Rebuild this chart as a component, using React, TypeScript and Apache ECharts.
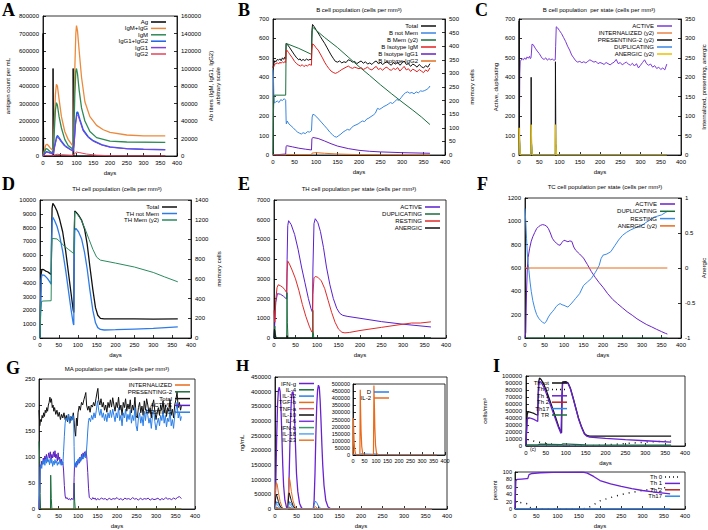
import React, { useEffect, useRef } from "react";
import * as echarts from "echarts";

type P = [number, number][];

// ---------- Panel A ----------
const aAg: P = [[0,0],[0.3,700000],[1,350000],[2,60000],[3,0],[29.5,0],[30,500000],[31,150000],[32,0],[89.5,0],[90,500000],[91,150000],[92,0],[365,0]];
const aIgMIgG: P = [[0,0],[4,6000],[8,12500],[12,13500],[16,12000],[22,9000],[29,6500],[31,8000],[34,40000],[37,70000],[40,82000],[43,80000],[48,65000],[55,45000],[65,28000],[75,19000],[85,13500],[90,11500],[92,30000],[95,100000],[98,140000],[100,149000],[103,143000],[108,120000],[115,90000],[125,62000],[140,45000],[160,35000],[180,30000],[200,27000],[250,24000],[300,23000],[365,23000]];
const aIgM: P = [[0,0],[5,5000],[9,8500],[13,8000],[20,5500],[29,3500],[31,5000],[34,30000],[37,52000],[40,61000],[43,58000],[48,45000],[55,32000],[65,19000],[75,12000],[85,9000],[90,8000],[92,25000],[95,70000],[98,97000],[100,100000],[103,94000],[108,75000],[115,55000],[125,40000],[140,28000],[160,21000],[200,17000],[250,16000],[365,15500]];
const aIgG12: P = [[0,0],[6,3000],[10,5000],[15,4500],[22,3500],[29,2500],[31,3000],[35,12000],[40,21000],[43,23500],[48,21000],[55,17000],[65,12000],[80,8000],[90,6000],[93,15000],[97,38000],[101,50000],[104,50000],[110,42000],[120,30000],[135,22000],[150,17500],[175,13000],[200,10500],[250,8500],[300,7700],[365,7200]];
const aIgG1: P = [[0,0],[6,2600],[10,4400],[15,4000],[22,3100],[29,2200],[31,2600],[35,10500],[40,19000],[43,21500],[48,19500],[55,15500],[65,11000],[80,7400],[90,5500],[93,13500],[97,35000],[101,46500],[104,47000],[110,40000],[120,28500],[135,21000],[150,16800],[175,12500],[200,10000],[250,8200],[300,7500],[365,7000]];
const aIgG2: P = [[0,0],[10,400],[30,300],[35,1200],[42,2000],[55,1500],[90,800],[95,3000],[100,4500],[110,3800],[130,2200],[160,1000],[200,300],[250,0],[365,0]];
const aNames = ["Ag", "IgM+IgG", "IgM", "IgG1+IgG2", "IgG1", "IgG2"];
const aColors = ["#000000", "#ec8a3c", "#2e8a55", "#1f5fe6", "#8040e0", "#e8405a"];

// ---------- Panel B ----------
const bTotal: P = [[0,450],[2,470],[4,485],[7,480],[10,492],[13,488],[16,495],[19,485],[22,500],[25,492],[28,505],[29.5,495],[30.5,575],[33,570],[38,555],[44,535],[50,515],[55,500],[60,490],[63,495],[66,485],[70,492],[74,486],[78,494],[82,488],[86,492],[89.5,490],[90.5,640],[92,672],[96,660],[100,645],[105,628],[110,610],[115,592],[120,575],[125,555],[130,535],[135,515],[140,498],[145,482],[150,478],[155,484],[160,474],[165,480],[170,476],[175,490],[180,486],[185,478],[190,482],[195,470],[200,478],[205,484],[210,472],[215,480],[220,468],[225,474],[230,466],[235,478],[240,484],[245,470],[250,476],[255,466],[260,474],[265,480],[270,470],[275,462],[280,476],[285,468],[290,478],[295,462],[300,472],[305,484],[310,466],[315,470],[320,456],[325,468],[330,462],[335,452],[340,466],[345,455],[350,448],[355,460],[360,452],[365,470]];
const bNotMem: P = [[0,440],[1,400],[2,300],[3,268],[6,272],[10,278],[14,270],[18,285],[22,280],[26,290],[29.5,282],[30.5,180],[31,160],[33,175],[37,160],[42,150],[47,140],[52,128],[57,118],[62,112],[66,108],[70,115],[75,110],[80,120],[85,118],[89.5,125],[91,195],[93,210],[97,205],[102,195],[108,180],[114,165],[120,150],[126,135],[132,118],[138,105],[143,95],[148,92],[153,100],[158,108],[163,118],[168,125],[173,132],[178,128],[183,142],[188,150],[193,155],[198,160],[203,168],[208,175],[213,172],[218,185],[223,190],[228,198],[233,205],[238,215],[243,240],[248,235],[253,242],[258,250],[263,255],[268,262],[273,270],[278,265],[283,275],[288,285],[293,282],[298,295],[303,310],[308,320],[313,325],[318,318],[323,322],[328,315],[333,325],[338,320],[343,330],[348,328],[353,332],[358,338],[362,345],[365,355]];
const bMem: P = [[0,0],[1,150],[2,215],[3,220],[29.5,220],[30.5,405],[31,410],[60,392],[89.5,370],[90.5,430],[92,470],[120,432],[150,395],[175,360],[200,325],[225,292],[250,258],[275,226],[300,195],[325,165],[345,140],[365,112]];
const bIgM: P = [[0,450],[2,455],[4,468],[7,470],[10,475],[13,468],[16,478],[19,472],[22,480],[25,474],[28,482],[29.5,476],[30.5,530],[32,540],[36,528],[40,515],[45,500],[50,482],[55,470],[60,462],[64,458],[68,465],[72,455],[76,462],[80,458],[84,466],[89.5,462],[90.5,540],[92,572],[96,565],[100,552],[105,540],[110,520],[115,500],[120,478],[125,460],[130,445],[135,432],[140,425],[145,420],[150,425],[155,432],[160,440],[165,446],[170,452],[175,458],[180,450],[185,446],[190,452],[195,448],[200,444],[205,450],[210,440],[215,446],[220,452],[225,442],[230,438],[235,448],[240,456],[245,440],[250,446],[255,436],[260,448],[265,452],[270,440],[275,436],[280,446],[285,440],[290,450],[295,432],[300,444],[305,456],[310,438],[315,444],[320,430],[325,442],[330,436],[335,428],[340,440],[345,432],[350,424],[355,438],[360,430],[365,448]];
const bIgG1: P = [[0,0],[29.5,5],[30.5,45],[32,48],[45,42],[60,35],[75,30],[89.5,26],[90.5,85],[93,90],[105,85],[120,72],[135,58],[150,46],[175,33],[200,24],[225,19],[250,16],[300,12],[365,9]];
const bIgG2: P = [[0,0],[29.5,0],[31,3],[60,2],[89.5,2],[91,10],[100,12],[120,9],[150,5],[200,2],[250,1],[365,0]];
const bNames = ["Total", "B not Mem", "B Mem (y2)", "B Isotype IgM", "B Isotype IgG1", "B Isotype IgG2"];
const bColors = ["#111111", "#3a86e0", "#1a6e3c", "#e02020", "#6a1fc0", "#e07020"];

// ---------- Panel C ----------
const cActive: P = [[0,0],[1,150],[2,420],[3,480],[5,488],[8,495],[11,490],[14,500],[17,492],[20,505],[23,498],[26,508],[28,496],[29.5,500],[30.5,520],[32,570],[35,568],[40,550],[45,535],[50,522],[55,505],[58,496],[62,492],[66,500],[70,488],[74,496],[78,490],[82,494],[86,488],[89.5,490],[90.5,560],[92,660],[95,655],[100,640],[105,625],[110,605],[115,585],[120,560],[125,540],[130,515],[135,500],[140,485],[145,478],[150,482],[155,475],[160,480],[165,474],[170,482],[175,490],[180,484],[185,478],[190,482],[195,470],[200,476],[205,472],[210,466],[215,476],[220,470],[225,464],[230,472],[235,478],[240,492],[245,470],[250,476],[255,464],[260,472],[265,478],[270,468],[275,462],[280,472],[285,458],[290,470],[295,448],[300,462],[305,476],[310,490],[315,470],[320,462],[325,468],[330,452],[335,460],[340,445],[345,452],[350,440],[355,448],[360,438],[365,468]];
const cInternalized: P = [[0,0],[0.5,50],[1.5,10],[3,0],[29.5,0],[30.3,8],[32,0],[89.5,0],[90.3,8],[92,0],[365,0]];
const cPresenting: P = [[0,0],[0.3,345],[1.5,40],[3,0],[29.5,0],[30,200],[31,30],[32.5,0],[89.5,0],[90,240],[91,30],[92.5,0],[365,0]];
const cDuplicating: P = [[0,0],[1,100],[2.5,20],[4,0],[29.5,0],[31,60],[33,0],[89.5,0],[91,40],[93,0],[365,0]];
const cAnergic: P = [[0,0],[0.5,70],[2,30],[3.5,0],[29.5,0],[30.3,78],[31.5,25],[33,0],[89.5,0],[90.3,78],[91.5,25],[93,0],[365,0]];
const cNames = ["ACTIVE", "INTERNALIZED (y2)", "PRESENTING-2 (y2)", "DUPLICATING", "ANERGIC (y2)"];
const cColors = ["#7a3ad6", "#e8844a", "#111111", "#3a86e0", "#e8c000"];

// ---------- Panel D ----------
const dTotal: P = [[0,0],[1,2000],[3,4600],[5,4980],[10,4950],[15,4850],[20,4800],[25,4700],[29.5,4600],[30.5,7000],[32,9400],[34,9750],[38,9600],[45,9200],[52,8600],[60,7700],[68,6300],[75,4800],[82,3300],[88,2000],[89.5,1850],[90.5,6500],[92,9200],[96,9100],[102,8900],[110,8550],[118,7900],[125,6800],[132,5200],[140,3500],[147,2200],[153,1650],[160,1420],[170,1380],[200,1380],[250,1390],[300,1370],[365,1390]];
const dNotMem: P = [[0,0],[1,1500],[3,4200],[5,4580],[10,4560],[15,4450],[20,4300],[25,4100],[29.5,3900],[30.5,6500],[32,8400],[34,8750],[38,8550],[45,8100],[52,7400],[60,6300],[68,4900],[75,3500],[82,2100],[88,1050],[89.5,950],[90.5,5500],[92,7800],[95,7950],[102,7700],[110,7200],[118,6200],[125,5000],[132,3500],[140,2000],[147,1100],[153,750],[160,620],[170,580],[200,600],[250,650],[300,700],[365,800]];
const dMem: P = [[0,0],[2,250],[4,370],[8,375],[29.5,378],[30.5,800],[32,1010],[45,1005],[55,970],[65,930],[75,900],[85,870],[89.5,855],[90.5,1100],[92,1280],[100,1250],[110,1190],[120,1100],[130,1000],[140,900],[150,820],[160,790],[200,760],[250,720],[300,665],[330,620],[365,570]];
const dNames = ["Total", "TH not Mem", "TH Mem (y2)"];
const dColors = ["#111111", "#2f7be6", "#2a8a5e"];

// ---------- Panel E ----------
const eActive: P = [[0,0],[2,800],[4,1800],[8,2250],[15,2220],[22,2120],[28,2000],[29.5,1980],[30.5,4000],[32,5700],[34,5950],[40,5750],[48,5250],[56,4500],[64,3600],[72,2800],[80,2000],[86,1500],[89.5,1300],[90.5,3500],[93,5800],[96,6050],[102,5850],[108,5400],[115,4600],[122,3600],[130,2700],[138,2000],[146,1500],[153,1250],[160,1150],[170,1100],[200,1000],[250,830],[300,700],[365,560]];
const eDuplicating: P = [[0,0],[1,400],[2,600],[3,250],[5,0],[29.5,0],[30.3,2300],[31,800],[32.5,0],[89.5,0],[90.3,1400],[91,400],[92.5,0],[365,0]];
const eResting: P = [[0,1400],[1,900],[2,800],[4,1900],[7,2550],[10,2700],[15,2650],[20,2580],[25,2450],[29.5,2300],[30.5,3300],[32,3900],[36,3750],[42,3450],[50,3000],[58,2400],[66,1700],[74,1100],[82,600],[88,300],[89.5,280],[90.5,2200],[93,3050],[96,3120],[102,3080],[110,2900],[118,2500],[126,1900],[134,1300],[142,800],[150,450],[158,290],[165,260],[175,280],[200,380],[250,540],[300,700],[320,760],[340,760],[365,820]];
const eAnergic: P = [[0,0],[1,450],[2,350],[3,100],[5,0],[29.5,0],[30.5,120],[32,0],[365,0]];
const eNames = ["ACTIVE", "DUPLICATING", "RESTING", "ANERGIC"];
const eColors = ["#5a1fd0", "#1a6e3c", "#e02a2a", "#111111"];

// ---------- Panel F ----------
const fActive: P = [[0,0],[2,50],[4,400],[6,600],[8,690],[12,770],[16,830],[20,868],[25,905],[30,938],[35,955],[40,966],[45,972],[50,968],[55,960],[60,938],[65,900],[70,855],[75,830],[80,815],[85,800],[90,795],[95,820],[100,838],[105,832],[110,825],[115,832],[120,828],[125,780],[130,752],[140,720],[150,685],[160,630],[170,570],[180,520],[190,475],[200,435],[212,380],[225,330],[237,295],[250,258],[262,225],[275,195],[287,165],[300,138],[312,115],[325,95],[337,75],[350,55],[360,40],[365,34]];
const fDuplicating: P = [[0,0],[365,0]];
const fResting: P = [[0,1110],[2,1000],[4,850],[6,720],[8,640],[10,580],[13,480],[16,400],[20,320],[25,250],[30,200],[35,170],[40,150],[45,135],[50,125],[55,145],[60,180],[65,205],[70,225],[75,245],[80,270],[85,285],[90,295],[95,285],[100,280],[105,272],[110,265],[115,282],[120,300],[125,320],[130,340],[140,380],[150,450],[160,480],[170,510],[180,560],[190,620],[195,680],[200,710],[210,720],[220,740],[230,790],[240,840],[250,880],[260,905],[270,925],[280,940],[290,955],[300,965],[310,990],[320,1010],[330,1035],[340,1045],[350,1055],[360,1075],[365,1086]];
const fAnergic: P = [[0,0],[365,0]];
const fNames = ["ACTIVE", "DUPLICATING", "RESTING", "ANERGIC (y2)"];
const fColors = ["#6a22c8", "#1a6e3c", "#3a8ae6", "#e86a1a"];

// ---------- Panel G ----------
const gInternalized: P = [[0,0],[0.5,15],[2,5],[4,0],[365,0]];
const gPresenting: P = [[0,130],[1,130],[2,90],[3,30],[4,0],[29.5,0],[30,65],[31.5,20],[33,0],[89.5,0],[90,50],[91.5,15],[93,0],[365,0]];
const gTotal: P = [[0,190],[2,160],[4,172],[6,168],[8,180],[10,175],[12,185],[14,178],[16,190],[18,185],[20,195],[22,188],[24,200],[26,205],[28,215],[30,205],[32,212],[34,195],[36,200],[38,188],[40,195],[43,182],[46,190],[49,178],[52,186],[55,172],[58,182],[61,175],[64,185],[67,172],[70,180],[73,168],[76,182],[79,165],[82,178],[85,172],[88,185],[90,170],[92,150],[94,140],[96,175],[98,160],[100,185],[103,198],[106,190],[109,205],[112,200],[115,210],[118,218],[120,224],[122,200],[125,190],[128,198],[131,186],[134,200],[137,196],[140,205],[143,198],[146,212],[149,225],[151,232],[153,210],[156,200],[159,212],[162,196],[165,205],[168,190],[171,200],[174,186],[177,205],[180,195],[183,210],[186,196],[189,214],[192,200],[195,188],[198,205],[201,195],[204,215],[207,190],[210,200],[213,180],[216,205],[219,195],[222,212],[225,188],[228,202],[231,192],[234,210],[237,185],[240,200],[243,190],[246,215],[249,180],[252,175],[255,195],[258,205],[261,185],[264,198],[267,180],[270,208],[273,190],[276,212],[279,200],[282,185],[285,195],[288,175],[291,200],[294,210],[297,188],[300,172],[303,185],[306,195],[309,180],[312,200],[315,190],[318,208],[321,185],[324,200],[327,178],[330,195],[333,188],[336,210],[339,180],[342,192],[345,175],[348,200],[351,210],[354,225],[357,195],[360,205],[363,190],[365,198]];
const gActive: P = [[0,0],[2,40],[3,85],[5,80],[7,92],[9,86],[11,98],[13,90],[15,102],[17,95],[19,105],[21,92],[23,100],[25,108],[27,98],[29,110],[31,95],[33,105],[35,98],[37,110],[39,100],[41,112],[43,98],[45,105],[47,92],[49,108],[51,95],[53,100],[55,88],[57,96],[59,85],[61,90],[63,75],[65,45],[67,25],[69,20],[72,22],[75,18],[78,20],[81,17],[84,21],[87,18],[89,20],[90,60],[91,82],[93,88],[95,80],[97,92],[99,85],[101,95],[103,88],[105,100],[107,92],[109,105],[111,96],[113,108],[115,100],[117,110],[119,102],[121,112],[123,95],[125,70],[127,40],[129,22],[132,20],[135,18],[138,22],[141,19],[144,21],[147,17],[150,20],[155,18],[160,21],[165,19],[170,20],[175,17],[180,21],[185,18],[190,20],[195,19],[200,22],[205,18],[210,20],[215,17],[220,21],[225,19],[230,20],[235,18],[240,22],[245,19],[250,20],[255,17],[260,21],[265,18],[270,20],[275,19],[280,21],[285,17],[290,20],[295,18],[300,19],[305,21],[310,17],[315,20],[320,18],[325,22],[330,19],[335,20],[340,18],[345,21],[350,19],[355,22],[360,24],[365,20]];
const gResting: P = [[0,0],[2,50],[3,80],[5,85],[7,78],[9,92],[11,86],[13,95],[15,84],[17,96],[19,88],[21,100],[23,90],[25,95],[27,85],[29,98],[31,88],[33,95],[35,82],[37,92],[39,85],[41,95],[43,88],[45,92],[47,84],[49,90],[51,86],[53,95],[55,88],[57,84],[59,92],[61,85],[63,110],[65,140],[67,165],[69,175],[72,170],[75,182],[78,165],[81,178],[84,170],[87,180],[89,172],[90,120],[91,80],[93,85],[95,90],[97,82],[99,95],[101,88],[103,98],[105,90],[107,100],[109,94],[111,105],[113,96],[115,100],[117,108],[119,98],[121,105],[123,125],[125,150],[127,170],[129,175],[132,168],[135,180],[138,172],[141,185],[144,175],[147,190],[150,208],[153,190],[156,180],[159,192],[162,176],[165,185],[168,170],[171,182],[174,168],[177,185],[180,175],[183,190],[186,176],[189,192],[192,180],[195,168],[198,185],[201,175],[204,195],[207,170],[210,180],[213,160],[216,185],[219,175],[222,192],[225,168],[228,182],[231,172],[234,190],[237,165],[240,180],[243,170],[246,195],[249,160],[252,150],[255,175],[258,185],[261,165],[264,178],[267,160],[270,188],[273,170],[276,192],[279,180],[282,165],[285,175],[288,155],[291,180],[294,190],[297,168],[300,152],[303,165],[306,175],[309,160],[312,180],[315,170],[318,188],[321,165],[324,180],[327,158],[330,175],[333,168],[336,190],[339,160],[342,172],[345,155],[348,180],[351,190],[354,205],[357,175],[360,185],[363,170],[365,178]];
const gNames = ["INTERNALIZED", "PRESENTING-2", "Total", "ACTIVE", "RESTING"];
const gColors = ["#e86a1a", "#1a6e3c", "#111111", "#5a1fc0", "#2a7ee6"];

// ---------- Panel H ----------
const hIFNg: P = [[0,0],[2,100000],[4,250000],[6,360000],[8,405000],[10,415000],[12,400000],[14,340000],[16,250000],[18,150000],[20,80000],[23,30000],[27,5000],[30,0],[32,60000],[34,180000],[36,300000],[38,370000],[40,398000],[42,400000],[44,370000],[46,290000],[48,200000],[50,120000],[53,60000],[57,20000],[62,3000],[68,0],[89,0],[91,30000],[93,120000],[95,250000],[97,350000],[99,405000],[101,422000],[103,415000],[105,370000],[107,300000],[109,220000],[111,150000],[114,80000],[118,30000],[123,8000],[130,0],[365,0]];
const hIL4: P = [[0,0],[3,5000],[10,2000],[20,0],[30,0],[33,5000],[45,0],[365,0]];
const hIL12: P = [[0,0],[2,15000],[4,25000],[7,20000],[11,10000],[15,3000],[20,0],[30,0],[32,15000],[34,25000],[37,20000],[41,10000],[45,3000],[50,0],[89,0],[91,15000],[94,27000],[97,22000],[101,10000],[106,2000],[112,0],[365,0]];
const hTGFb: P = [[0,0],[1,60000],[3,90000],[5,85000],[8,55000],[12,25000],[16,8000],[20,0],[30,0],[31,50000],[33,107000],[35,95000],[38,60000],[42,28000],[46,10000],[50,0],[89,0],[91,5000],[94,8000],[98,3000],[102,0],[365,0]];
const hTNFa: P = [[0,0],[2,8000],[6,3000],[12,0],[30,0],[32,8000],[38,2000],[45,0],[365,0]];
const hIL10: P = [[0,0],[1,30000],[3,50000],[5,42000],[8,25000],[12,10000],[16,2000],[20,0],[30,0],[31,30000],[33,55000],[35,45000],[38,28000],[42,12000],[46,3000],[50,0],[365,0]];
const hIL6: P = [[0,0],[365,0]];
const hIFNb: P = [[0,0],[365,0]];
const hIL18: P = [[0,0],[3,20000],[8,8000],[15,0],[30,0],[33,20000],[40,5000],[48,0],[365,0]];
const hIL23: P = [[0,0],[365,0]];
const hNames = ["IFN-g", "IL-4", "IL-12", "TGF-b", "TNF-a", "IL-10", "IL-6", "IFN-b", "IL-18", "IL-23"];
const hColors = ["#6a22d0", "#1a6e3c", "#2a7ee6", "#e86a1a", "#e06060", "#111111", "#7a3ad6", "#3a9a6a", "#5aa8ee", "#e8782a"];
const hInsetD: P = [[0,0],[2,8000],[10,3000],[30,3000],[33,8000],[90,5000],[93,8000],[120,2000],[200,0],[365,0]];
const hInsetIL2: P = [[0,0],[1.5,260000],[3,180000],[5,90000],[8,30000],[12,5000],[16,0],[30,0],[31.5,460000],[33,320000],[35,170000],[38,60000],[42,12000],[46,0],[89,0],[91,490000],[93,350000],[95,190000],[98,70000],[102,15000],[107,0],[365,0]];
const hInsetNames = ["D", "IL-2"];
const hInsetColors = ["#2a7ee6", "#e86a1a"];

// ---------- Panel I ----------
const iTot: P = [[0,0],[1,20000],[3,45000],[5,49000],[10,48500],[15,47500],[20,46500],[25,45000],[29.5,44000],[30.5,70000],[32,92000],[34,97000],[38,95000],[45,88000],[52,78000],[60,65000],[68,52000],[75,40000],[82,28000],[88,20000],[89.5,19000],[90.5,70000],[92,91500],[100,92000],[106,90000],[112,82000],[118,70000],[125,55000],[132,40000],[140,27000],[147,18000],[153,15000],[160,14000],[200,14000],[250,14000],[300,14000],[365,14000]];
const iTh0: P = [[0,0],[5,9000],[15,8000],[25,6000],[40,5000],[60,3000],[90,500],[150,0],[180,800],[200,1500],[250,3500],[300,5500],[350,7000],[365,7500]];
const iTh1: P = [[0,0],[1,15000],[3,37000],[5,40000],[10,40000],[15,39000],[20,38000],[25,36500],[29.5,35000],[30.5,65000],[32,88000],[34,92500],[38,91000],[45,84000],[52,74000],[60,61000],[68,48000],[75,37000],[82,26000],[88,18000],[89.5,17500],[90.5,68000],[92,90500],[100,91000],[106,89000],[112,81000],[118,69000],[125,54000],[132,39000],[140,26000],[147,17000],[153,14000],[160,12800],[200,11000],[250,9000],[300,7500],[365,5500]];
const iTh2: P = [[0,0],[90,0],[100,800],[110,0],[365,0]];
const iTh17: P = [[0,0],[365,0]];
const iTR: P = [[0,0],[3,1500],[30,1500],[33,2500],[90,2000],[93,3000],[150,1500],[365,1200]];
const iNames = ["Th tot", "Th 0", "Th 1", "Th 2", "Th17", "TR"];
const iColors = ["#111111", "#111111", "#6a22d0", "#c02020", "#2a8ae6", "#1a6e3c"];
const pTh0: P = [[0,0],[2,20],[10,18],[20,16],[30,14],[33,5],[40,2],[60,1],[100,0],[160,0],[170,3],[180,8],[200,22],[225,31],[250,39],[275,45],[300,50],[325,54],[350,57],[365,59]];
const pTh1: P = [[0,0],[2,76],[5,80],[15,81],[28,82],[30,82],[33,93],[40,96],[60,98],[90,99],[160,99.5],[170,97],[185,88],[200,77],[225,68],[250,61],[275,55],[300,50],[325,46],[350,43],[365,41]];
const pTh2: P = [[0,0],[365,0]];
const pTh17: P = [[0,0],[365,0]];
const pNames = ["Th 0", "Th 1", "Th 2", "Th17"];
const pColors = ["#111111", "#6a22d0", "#c02020", "#2a8ae6"];

const FONT = "Liberation Sans";
const SERIF = "Liberation Serif";
const fmt = (v: number) => String(v);

const grids = [
  { left: 43, top: 16, width: 134, height: 140 },   // A
  { left: 273, top: 19, width: 172, height: 136 },  // B
  { left: 519, top: 19, width: 162, height: 136 },  // C
  { left: 40, top: 200, width: 151, height: 138 },  // D
  { left: 274, top: 200, width: 172, height: 138 }, // E
  { left: 525, top: 198, width: 157, height: 140 }, // F
  { left: 39, top: 379, width: 156, height: 130 },  // G
  { left: 275, top: 377, width: 172, height: 133 }, // H
  { left: 353, top: 384, width: 92, height: 71 },   // H inset
  { left: 526, top: 376, width: 159, height: 70 },  // I upper
  { left: 515, top: 472, width: 170, height: 37 },  // I lower
].map((g) => ({ ...g, show: true, borderColor: "#000", borderWidth: 0.8, backgroundColor: "#fff" }));

const txt = { fontSize: 6, color: "#000", fontFamily: FONT };

function xAx(gi: number, extra: any = {}) {
  return {
    type: "value", gridIndex: gi, min: 0, max: 400, interval: 50,
    axisLine: { show: true, lineStyle: { color: "#000", width: 0.8 } },
    axisTick: { show: true, inside: true, length: 3, lineStyle: { color: "#000", width: 0.8 } },
    axisLabel: { ...txt, margin: 4, formatter: fmt },
    splitLine: { show: false },
    name: "days", nameLocation: "middle", nameGap: 14, nameTextStyle: { ...txt },
    ...extra,
  };
}
function yAx(gi: number, min: number, max: number, interval: number, extra: any = {}) {
  return {
    type: "value", gridIndex: gi, min, max, interval,
    axisLine: { show: true, lineStyle: { color: "#000", width: 0.8 } },
    axisTick: { show: true, inside: true, length: 3, lineStyle: { color: "#000", width: 0.8 } },
    axisLabel: { ...txt, margin: 4, formatter: fmt },
    splitLine: { show: false },
    nameLocation: "middle", nameTextStyle: { ...txt },
    ...extra,
  };
}

function ln(name: string, data: P, color: string, xi: number, yi: number, extra: any = {}) {
  return {
    type: "line", name, data, xAxisIndex: xi, yAxisIndex: yi,
    symbol: "none", showSymbol: false, silent: true, animation: false,
    lineStyle: { color, width: 1, ...extra }, itemStyle: { color },
  };
}

function legend(xr: number, y0: number, dy: number, names: string[], colors: string[], dashed: number[] = []) {
  const els: any[] = [];
  names.forEach((n, i) => {
    const y = y0 + i * dy;
    els.push({ type: "text", x: xr, y, style: { text: n, fill: "#000", fontSize: 6, fontFamily: FONT, textAlign: "right", textVerticalAlign: "middle" }, z: 100 });
    els.push({ type: "line", shape: { x1: xr + 3, y1: y, x2: xr + 18, y2: y }, style: { stroke: colors[i], lineWidth: 1.5, lineDash: dashed.includes(i) ? [1, 3] : null }, z: 100 });
  });
  return els;
}

function label(t: string, x: number, y: number, size = 18) {
  return { type: "text", x, y, style: { text: t, fill: "#000", fontSize: size, fontWeight: "bold", fontFamily: SERIF, textVerticalAlign: "middle" }, z: 100 };
}
function title(t: string, x: number, y: number) {
  return { type: "text", x, y, style: { text: t, fill: "#000", fontSize: 6, fontFamily: FONT, textAlign: "center", textVerticalAlign: "middle" }, z: 100 };
}

export default function App() {
  const ref = useRef<HTMLDivElement>(null);
  useEffect(() => {
    if (!ref.current) return;
    const chart = echarts.init(ref.current, undefined, { renderer: "svg" });
    const xAxis = grids.map((_, i) =>
      i === 8 ? xAx(8, { name: "", axisLabel: { ...txt, fontSize: 5.5, margin: 3, formatter: fmt } }) : xAx(i)
    );
    const yAxis = [
      yAx(0, 0, 800000, 100000, { name: "antigen count per mL", nameGap: 32 }),                       // 0
      yAx(0, 0, 160000, 20000, { position: "right", name: "Ab titers (IgM, IgG1, IgG2)\narbitrary scale", nameGap: 30, nameTextStyle: { ...txt, lineHeight: 7 } }), // 1
      yAx(1, 0, 700, 100),                                                                             // 2
      yAx(1, 0, 500, 50, { position: "right", name: "memory cells", nameGap: 24 }),                    // 3
      yAx(2, 0, 700, 100, { name: "Active, duplicating", nameGap: 20 }),                              // 4
      yAx(2, 0, 350, 50, { position: "right", name: "Internalized, presenting, anergic", nameGap: 20 }), // 5
      yAx(3, 0, 10000, 1000),                                                                          // 6
      yAx(3, 0, 1400, 200, { position: "right", name: "memory cells", nameGap: 25 }),                  // 7
      yAx(4, 0, 7000, 1000),                                                                           // 8
      yAx(5, 0, 1200, 200),                                                                            // 9
      yAx(5, -1, 1, 0.5, { position: "right", name: "Anergic", nameGap: 20 }),                         // 10
      yAx(6, 0, 250, 50),                                                                              // 11
      yAx(7, 0, 450000, 50000, { name: "ng/mL", nameGap: 30 }),                                       // 12
      yAx(8, 0, 500000, 50000, { axisLabel: { ...txt, fontSize: 5.5, margin: 3, formatter: fmt } }),  // 13
      yAx(9, 0, 100000, 10000, { name: "cells/mm³", nameGap: 38 }),                                   // 14
      yAx(10, 0, 100, 20, { name: "percent", nameGap: 17, axisLabel: { ...txt, fontSize: 5.5, margin: 3, formatter: fmt } }), // 15
    ];
    const dot = { type: [1, 5], width: 1.5 };
    const series = [
      ln(aNames[0], aAg, aColors[0], 0, 0),
      ln(aNames[1], aIgMIgG, aColors[1], 0, 1, { width: 1.3 }),
      ln(aNames[2], aIgM, aColors[2], 0, 1, { width: 1.3 }),
      ln(aNames[3], aIgG12, aColors[3], 0, 1, { width: 1.3 }),
      ln(aNames[4], aIgG1, aColors[4], 0, 1),
      ln(aNames[5], aIgG2, aColors[5], 0, 1),
      ln(bNames[0], bTotal, bColors[0], 1, 2),
      ln(bNames[1], bNotMem, bColors[1], 1, 2),
      ln(bNames[2], bMem, bColors[2], 1, 3),
      ln(bNames[3], bIgM, bColors[3], 1, 2),
      ln(bNames[4], bIgG1, bColors[4], 1, 2),
      ln(bNames[5], bIgG2, bColors[5], 1, 2),
      ln(cNames[0], cActive, cColors[0], 2, 4),
      ln(cNames[1], cInternalized, cColors[1], 2, 5),
      ln(cNames[2], cPresenting, cColors[2], 2, 5),
      ln(cNames[3], cDuplicating, cColors[3], 2, 4),
      ln(cNames[4], cAnergic, cColors[4], 2, 5),
      ln(dNames[0], dTotal, dColors[0], 3, 6, { width: 1.3 }),
      ln(dNames[1], dNotMem, dColors[1], 3, 6, { width: 1.3 }),
      ln(dNames[2], dMem, dColors[2], 3, 7),
      ln(eNames[0], eActive, eColors[0], 4, 8),
      ln(eNames[1], eDuplicating, eColors[1], 4, 8),
      ln(eNames[2], eResting, eColors[2], 4, 8),
      ln(eNames[3], eAnergic, eColors[3], 4, 8),
      ln(fNames[0], fActive, fColors[0], 5, 9),
      ln(fNames[1], fDuplicating, fColors[1], 5, 9),
      ln(fNames[2], fResting, fColors[2], 5, 9),
      ln(fNames[3], fAnergic, fColors[3], 5, 10),
      ln(gNames[0], gInternalized, gColors[0], 6, 11),
      ln(gNames[1], gPresenting, gColors[1], 6, 11),
      ln(gNames[2], gTotal, gColors[2], 6, 11),
      ln(gNames[3], gActive, gColors[3], 6, 11),
      ln(gNames[4], gResting, gColors[4], 6, 11),
      ...[hIFNg, hIL4, hIL12, hTGFb, hTNFa, hIL10, hIL6, hIFNb, hIL18, hIL23].map((d, i) => ln(hNames[i], d, hColors[i], 7, 12, { width: i === 0 ? 1.3 : 1 })),
      ln(hInsetNames[0], hInsetD, hInsetColors[0], 8, 13),
      ln(hInsetNames[1], hInsetIL2, hInsetColors[1], 8, 13, { width: 1.2 }),
      ln(iNames[0], iTot, iColors[0], 9, 14, { width: 1.3 }),
      ln(iNames[1], iTh0, iColors[1], 9, 14, dot),
      ln(iNames[2], iTh1, iColors[2], 9, 14, { width: 1.3 }),
      ln(iNames[3], iTh2, iColors[3], 9, 14),
      ln(iNames[4], iTh17, iColors[4], 9, 14),
      ln(iNames[5], iTR, iColors[5], 9, 14, { width: 1.3 }),
      ln(pNames[0], pTh0, pColors[0], 10, 15, dot),
      ln(pNames[1], pTh1, pColors[1], 10, 15, { width: 1.3 }),
      ln(pNames[2], pTh2, pColors[2], 10, 15),
      ln(pNames[3], pTh17, pColors[3], 10, 15, { width: 1.3 }),
    ];
    const graphic = [
      label("A", 2, 10), label("B", 238, 10), label("C", 475, 10),
      label("D", 2, 184), label("E", 238, 184), label("F", 477, 184),
      label("G", 6, 368), label("H", 236, 365, 17), label("I", 493, 366),
      title("B cell population (cells per mm³)", 359, 10),
      title("B cell population  per state (cells per mm³)", 599, 10),
      title("TH cell population (cells per mm³)", 117, 189),
      title("TH cell population per state (cells per mm³)", 359, 189),
      title("TC cell population per state (cells per mm³)", 605, 187),
      title("MA population per state (cells per mm³)", 117, 369),
      { type: "text", x: 533, y: 449, style: { text: "(c)", fill: "#000", fontSize: 5, fontFamily: FONT, textAlign: "center", textVerticalAlign: "middle" }, z: 100 },
      ...legend(148, 22, 6.4, aNames, aColors),
      ...legend(418, 26, 7, bNames, bColors),
      ...legend(654, 26, 7, cNames, cColors),
      ...legend(159, 207, 6.5, dNames, dColors),
      ...legend(422, 207, 7, eNames, eColors),
      ...legend(657, 204, 7.3, fNames, fColors),
      ...legend(172, 385, 6.8, gNames, gColors),
      ...legend(296, 383.5, 6.3, hNames, hColors),
      ...legend(371, 392, 6, hInsetNames, hInsetColors),
      ...legend(549, 383, 6.4, iNames, iColors, [1]),
      ...legend(662, 477, 6.4, pNames, pColors, [0]),
    ];
    chart.setOption({
      animation: false,
      backgroundColor: "#fff",
      grid: grids,
      xAxis,
      yAxis,
      series,
      graphic,
    });
    return () => chart.dispose();
  }, []);
  return <div ref={ref} style={{ position: "fixed", left: 0, top: 0, width: 708, height: 530 }} />;
}
